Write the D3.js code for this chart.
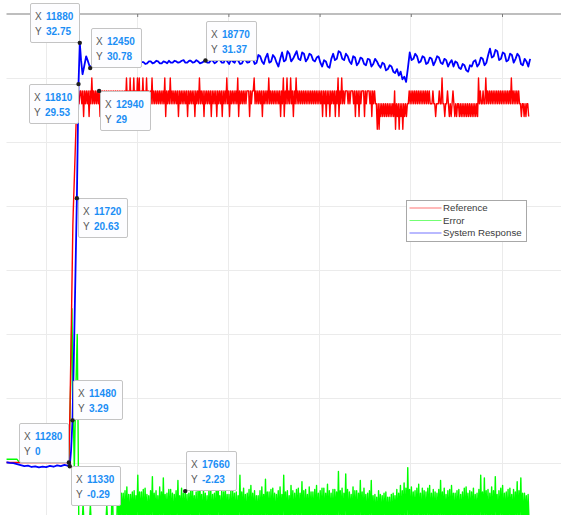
<!DOCTYPE html>
<html>
<head>
<meta charset="utf-8">
<script src="https://cdn.jsdelivr.net/npm/d3@7"></script>
<style>
  html, body { margin: 0; padding: 0; background: #fff; }
  svg { display: block; font-family: "Liberation Sans", Arial, Helvetica, sans-serif; }
</style>
</head>
<body>
<svg id="chart" width="561" height="515"></svg>
<script>
// ---- axis ticks ----
const xTickValues = [10000, 15000, 20000, 25000, 30000, 35000];
const yTickValues = [-5, 0, 5, 10, 15, 20, 25, 30, 35];

// ---- legend ----
const seriesKeys = ["ref", "err", "resp"];
const seriesLabels = ["Reference", "Error", "System Response"];

// ---- Reference: ramp section [time, value], then samples every refStep ----
const refEarly = [[7840, 0], [11280, 0], [11340, 4], [11420, 11], [11500, 18.5], [11520, 19.5],
  [11600, 23], [11700, 27.5], [11760, 29], [11840, 28], [11900, 29]];
const refStart = 11940, refStep = 50;
const refValues = [
  29, 28, 29, 27, 29, 28, 29, 28, 29, 27, 29, 28, 30, 28, 29, 28, 29, 28, 29, 28,
  29, 27, 29, 28, 29, 28, 29, 28, 29, 28, 29, 28, 29, 28, 29, 28, 29, 28, 29, 28,
  29, 28, 29, 27, 29, 28, 29, 28, 29, 28, 30, 28, 29, 27, 30, 28, 29, 28, 30, 28,
  29, 28, 30, 28, 30, 27, 29, 28, 30, 28, 29, 28, 30, 28, 29, 28, 29, 28, 30, 28,
  29, 28, 29, 28, 29, 28, 29, 28, 29, 28, 29, 28, 30, 27, 29, 28, 29, 28, 30, 28,
  29, 28, 29, 28, 29, 28, 29, 27, 29, 28, 29, 28, 29, 28, 29, 28, 29, 27, 29, 28,
  29, 28, 29, 28, 29, 27, 29, 28, 29, 28, 30, 28, 29, 28, 29, 27, 29, 28, 29, 28,
  29, 28, 29, 27, 29, 28, 29, 28, 29, 27, 29, 28, 29, 28, 29, 27, 29, 28, 29, 28,
  30, 28, 29, 27, 29, 28, 29, 28, 29, 28, 29, 28, 30, 27, 29, 28, 29, 28, 29, 28,
  29, 28, 29, 29, 29, 27, 29, 28, 29, 29, 30, 28, 29, 28, 29, 28, 29, 28, 29, 27,
  29, 28, 29, 28, 29, 28, 30, 28, 29, 28, 29, 28, 29, 28, 29, 28, 29, 28, 29, 27,
  29, 28, 30, 27, 29, 28, 30, 28, 29, 28, 30, 28, 29, 27, 29, 28, 30, 28, 29, 28,
  29, 28, 29, 28, 29, 28, 29, 28, 29, 28, 29, 28, 29, 28, 29, 28, 29, 28, 29, 28,
  29, 28, 29, 28, 29, 27, 29, 28, 29, 27, 29, 28, 29, 27, 29, 28, 29, 28, 29, 27,
  29, 28, 30, 27, 29, 28, 30, 28, 29, 28, 29, 29, 29, 28, 29, 28, 29, 29, 29, 28,
  29, 27, 29, 28, 29, 27, 29, 28, 29, 29, 29, 27, 29, 28, 29, 29, 29, 28, 29, 27,
  29, 28, 29, 28, 28, 26, 28, 26, 28, 27, 28, 27, 28, 27, 28, 27, 28, 27, 28, 27,
  28, 27, 28, 27, 29, 26, 28, 27, 28, 26, 28, 27, 28, 26, 28, 27, 28, 27, 28, 28,
  29, 28, 29, 28, 29, 28, 29, 28, 29, 28, 29, 28, 29, 28, 29, 28, 29, 28, 29, 28,
  29, 28, 29, 28, 28, 28, 29, 28, 28, 27, 28, 28, 28, 29, 28, 28, 30, 28, 28, 27,
  28, 28, 29, 28, 27, 28, 27, 28, 29, 28, 27, 28, 27, 28, 28, 27, 28, 27, 28, 27,
  28, 27, 28, 27, 28, 27, 28, 27, 28, 27, 28, 27, 28, 27, 28, 27, 30, 28, 29, 28,
  28, 29, 28, 28, 30, 28, 29, 28, 29, 28, 29, 28, 29, 28, 29, 28, 29, 28, 29, 28,
  29, 28, 29, 28, 29, 28, 29, 28, 29, 28, 29, 28, 30, 28, 29, 28, 29, 28, 29, 28,
  29, 28, 28, 27, 28, 28, 27, 28, 27, 28, 28, 27
];

// ---- System Response: start-up section [time, value], then samples every respStep ----
const respEarly = [[7840, 0.02], [8040, -0.03], [8240, -0.05], [8440, -0.12], [8640, -0.2],
  [8840, -0.28], [9040, -0.25], [9240, -0.35], [9440, -0.3], [9640, -0.38], [9840, -0.32],
  [10040, -0.36], [10240, -0.27], [10440, -0.33], [10640, -0.22], [10840, -0.28], [11040, -0.18],
  [11200, -0.24], [11280, -0.22], [11330, -0.29], [11400, 0.9], [11480, 3.29], [11560, 8.6],
  [11640, 14.6], [11720, 20.63], [11810, 29.53], [11880, 32.75], [11950, 31.4], [12030, 30.3],
  [12120, 30.9], [12230, 31.7], [12330, 31.3], [12450, 30.78], [12510, 30.95]];
const respStart = 12570, respStep = 100;
const respValues = [
  31.05, 31.2, 31.15, 31.05, 31.0, 31.15, 31.1, 31.0, 31.2, 31.1,
  31.05, 31.2, 31.15, 31.05, 31.1, 31.25, 31.2, 31.05, 31.1, 31.2,
  31.25, 31.1, 31.15, 31.3, 31.2, 31.1, 31.1, 31.25, 31.25, 31.1,
  31.15, 31.3, 31.3, 31.15, 31.2, 31.35, 31.3, 31.15, 31.15, 31.3,
  31.25, 31.15, 31.35, 31.2, 31.2, 31.35, 31.3, 31.2, 31.25, 31.35,
  31.4, 31.2, 31.2, 31.35, 31.35, 31.2, 31.25, 31.4, 31.3, 31.15,
  31.2, 31.3, 31.37, 31.2, 31.2, 31.4, 31.35, 31.15, 31.25, 31.45,
  31.4, 31.2, 31.2, 31.5, 31.3, 31.1, 31.45, 31.3, 31.2, 31.5,
  31.35, 31.1, 31.15, 31.45, 31.4, 31.2, 31.25, 31.6, 31.5, 31.1,
  31.2, 31.8, 31.7, 31.3, 31.1, 31.6, 31.9, 31.2, 31.3, 31.8,
  31.6, 31.2, 30.9, 31.5, 32.0, 31.3, 31.4, 32.1, 31.9, 31.3,
  31.5, 31.8, 32.1, 31.5, 31.4, 32.0, 31.9, 31.3, 31.5, 31.9,
  31.8, 31.4, 31.3, 31.6, 31.7, 31.2, 30.9, 31.4, 31.3, 30.9,
  30.8, 31.5, 31.9, 31.4, 31.5, 32.1, 32.0, 31.5, 31.4, 31.9,
  31.7, 31.3, 31.1, 31.7, 31.6, 31.0, 31.2, 31.6, 31.5, 31.1,
  31.0, 31.5, 31.45, 30.9, 31.1, 31.5, 31.3, 31.0, 30.8, 31.2,
  31.1, 30.6, 30.7, 31.0, 30.9, 30.5, 30.4, 30.7, 30.2, 30.5,
  29.9, 30.1, 29.7, 30.8, 32.0, 31.4, 31.5, 31.9, 31.7, 31.2,
  31.3, 31.7, 31.6, 31.1, 31.2, 31.6, 31.5, 31.0, 31.3, 31.7,
  31.6, 31.2, 31.1, 31.5, 31.4, 30.9, 31.2, 31.4, 30.9, 31.3,
  31.2, 30.8, 30.7, 31.1, 31.0, 30.6, 30.5, 31.0, 30.9, 31.3,
  31.4, 30.9, 31.1, 31.6, 31.5, 31.0, 31.2, 31.8, 32.3, 31.6,
  31.7, 32.2, 32.1, 31.4, 31.5, 32.0, 31.9, 31.3, 31.4, 31.9,
  31.8, 31.2, 31.5, 31.9, 31.7, 31.1, 31.0, 31.5, 31.3, 30.9,
  31.5
];

// ---- Error: start-up section [time, value], then samples every errStep ----
const errEarly = [[7840, 0.25], [8440, 0.25], [8560, 0.02], [11280, 0.02], [11380, 6], [11450, 12.0],
  [11520, 4], [11580, -0.5], [11650, 5], [11740, 10], [11790, 2], [11830, -5.5], [11880, -4.2], [11920, -4.9]];
const errStart = 11960, errStep = 50;
const errValues = [
  -4.6, -4.8, -3.2, -4.7, -4.9, -4.5, -4.8, -5.0, -4.6, -4.7,
  -3.3, -4.8, -4.5, -4.9, -4.6, -4.4, -4.8, -4.7, -5.0, -4.6,
  -4.5, -4.9, -4.7, -4.4, -4.8, -4.6, -5.0, -4.7, -3.3, -4.8,
  -4.6, -4.9, -4.5, -4.7, -0.8, -4.8, -4.6, -4.9, -4.5, -4.7,
  -1.2, -4.6,
  -2.1, -4.6, -2.4, -4.4, -2.4, -4.9, -2.2, -4.5, -1.9, -4.7, -2.5, -5.0, -2.5, -4.3, -2.3, -4.8, -2.2, -4.6, -2.6, -4.4,
  -1.0, -4.9, -2.3, -4.5, -2.3, -4.7, -2.1, -5.0, -2.0, -4.3, -2.5, -4.8, -2.6, -4.6, -2.2, -4.4, -1.1, -4.9, -2.4, -4.5,
  -2.2, -4.7, -2.6, -5.0, -1.9, -4.3, -2.3, -4.8, -1.2, -4.6, -2.5, -4.4, -2.4, -4.9, -2.1, -4.5, -2.1, -4.7, -2.4, -5.0,
  -2.5, -4.3, -2.2, -4.8, -1.4, -4.6, -2.6, -4.4, -2.0, -4.9, -2.4, -4.5, -2.23, -4.7, -2.5, -5.0, -2.4, -4.3, -2.1, -4.8,
  -1.9, -4.6, -2.6, -4.4, -2.3, -4.9, -2.2, -4.5, -1.3, -4.7, -2.5, -5.0, -2.1, -4.3, -2.4, -4.8, -2.6, -4.6, -2.2, -4.4,
  -2.0, -4.9, -2.5, -4.5, -2.4, -4.7, -2.1, -5.0, -1.2, -4.3, -2.6, -4.8, -2.2, -4.6, -2.3, -4.4, -1.9, -4.9, -2.5, -4.5,
  -2.5, -4.7, -2.2, -5.0, -2.1, -4.3, -2.4, -4.8, -2.3, -4.6, -2.6, -4.4, -1.0, -4.9, -2.3, -4.5, -2.0, -4.7, -2.5, -5.0,
  -2.4, -4.3, -2.1, -4.8, -1.8, -4.6, -2.4, -4.4, -2.2, -4.9, -2.6, -4.5, -2.6, -4.7, -2.2, -5.0, -1.9, -4.3, -2.5, -4.8,
  -1.3, -4.6, -2.3, -4.4, -2.3, -4.9, -2.1, -4.5, -2.0, -4.7, -2.4, -5.0, -2.5, -4.3, -2.2, -4.8, -1.9, -4.6, -2.5, -4.4,
  -1.0, -4.9, -2.3, -4.5, -2.2, -4.7, -2.6, -5.0, -1.8, -4.3, -2.2, -4.8, -2.4, -4.6, -2.1, -4.4, -2.0, -4.9, -2.4, -4.5,
  -1.5, -4.7, -2.2, -5.0, -2.1, -4.3, -2.5, -4.8, -1.9, -4.6, -2.3, -4.4, -2.3, -4.9, -2.1, -4.5, -1.8, -4.7, -2.4, -5.0,
  -2.2, -4.3, -2.0, -4.8, -2.0, -4.6, -2.4, -4.4, -1.7, -4.9, -2.2, -4.5, -2.4, -4.7, -2.1, -5.0, -2.1, -4.3, -2.3, -4.8,
  -0.7, -4.6, -2.2, -4.4, -2.0, -4.9, -2.4, -4.5, -0.9, -4.7, -2.1, -5.0, -2.3, -4.3, -2.5, -4.8, -1.9, -4.6, -2.2, -4.4,
  -2.2, -4.9, -2.4, -4.5, -1.4, -4.7, -2.3, -5.0, -2.0, -4.3, -2.5, -4.8, -2.4, -4.6, -2.2, -4.4, -1.4, -4.9, -2.6, -4.5,
  -2.5, -4.7, -2.7, -5.0, -2.2, -4.3, -2.5, -4.8, -2.6, -4.6, -2.4, -4.4, -2.3, -4.9, -2.7, -4.5, -2.7, -4.7, -2.5, -5.0,
  -2.4, -4.3, -2.6, -4.8, -2.1, -4.6, -2.4, -4.4, -1.8, -4.9, -2.2, -4.5, -1.6, -4.7, -2.0, -5.0, -0.4, -4.3, -2.1, -4.8,
  -1.9, -4.6, -2.3, -4.4, -2.2, -4.9, -2.0, -4.5, -1.7, -4.7, -2.4, -5.0, -2.0, -4.3, -2.2, -4.8, -2.3, -4.6, -2.0, -4.4,
  -1.8, -4.9, -2.4, -4.5, -2.1, -4.7, -2.3, -5.0, -2.4, -4.3, -2.1, -4.8, -1.4, -4.6, -2.3, -4.4, -2.0, -4.9, -2.5, -4.5,
  -2.2, -4.7, -2.1, -5.0, -1.8, -4.3, -2.4, -4.8, -2.4, -4.6, -2.2, -4.4, -2.1, -4.9, -2.5, -4.5, -2.3, -4.7, -2.0, -5.0,
  -1.9, -4.3, -2.4, -4.8, -2.2, -4.6, -2.3, -4.4, -2.0, -4.9, -2.5, -4.5, -2.4, -4.7, -2.1, -5.0, -1.0, -4.3, -2.3, -4.8,
  -1.2, -4.6, -2.2, -4.4, -2.1, -4.9, -2.4, -4.5, -1.9, -4.7, -2.2, -5.0, -1.1, -4.3, -2.5, -4.8, -2.2, -4.6, -2.0, -4.4,
  -1.8, -4.9, -2.4, -4.5, -2.3, -4.7, -2.1, -5.0, -2.0, -4.3, -2.5, -4.8, -2.1, -4.6, -2.3, -4.4, -1.5, -4.9, -2.2, -4.5,
  -1.2, -4.7, -2.4, -5.0, -2.4, -4.3, -2.6, -4.8, -2.5, -4.6
];

// ---- data tips: which series and at which time ----
const tipSeries = ["resp", "resp", "resp", "resp", "ref", "resp", "resp", "ref", "resp", "err"];
const tipX = [11880, 12450, 18770, 11810, 12940, 11720, 11480, 11280, 11330, 17660];
// box side relative to the marked point (u/d = above/below, l/r = left/right)
const tipPlace = ["ul", "ur", "ur", "dl", "dr", "dr", "ur", "ul", "dr", "ur"];

// ---- assemble series ----
function assemble(early, start, step, values) {
  return early.concat(values.map((v, i) => [start + i * step, v]));
}
const series = {
  ref: assemble(refEarly, refStart, refStep, refValues),
  resp: assemble(respEarly, respStart, respStep, respValues),
  err: assemble(errEarly, errStart, errStep, errValues)
};
const colors = { ref: "#ff0000", err: "#00ff00", resp: "#0000ff" };
const widths = { ref: 1.4, err: 1.4, resp: 1.8 };

// ---- layout ----
const W = 561, H = 515;
const plotLeft = 6.5, plotTop = 14;
const svg = d3.select("#chart");
svg.append("rect").attr("width", W).attr("height", H).attr("fill", "#fff");

const x = d3.scaleLinear().domain([10000, 35000]).range([45.5, 501.5]);
const y = d3.scaleLinear().domain([0, 35]).range([462.5, 14]);

svg.append("defs").append("clipPath").attr("id", "plotClip")
  .append("rect").attr("x", plotLeft).attr("y", plotTop).attr("width", W - plotLeft).attr("height", H - plotTop);

// grid
const grid = svg.append("g").attr("stroke", "#ebebeb").attr("stroke-width", 1);
grid.selectAll("line.v").data(xTickValues).join("line")
  .attr("class", "v")
  .attr("x1", d => Math.round(x(d)) + 0.5).attr("x2", d => Math.round(x(d)) + 0.5)
  .attr("y1", plotTop).attr("y2", H);
grid.selectAll("line.h").data(yTickValues.filter(v => v < 35)).join("line")
  .attr("class", "h")
  .attr("x1", plotLeft).attr("x2", W)
  .attr("y1", d => Math.round(y(d)) + 0.5).attr("y2", d => Math.round(y(d)) + 0.5);

// series lines
const line = d3.line().x(d => x(d[0])).y(d => y(d[1]));
const plot = svg.append("g").attr("clip-path", "url(#plotClip)");
["err", "ref", "resp"].forEach(k => {
  plot.append("path")
    .datum(series[k])
    .attr("fill", "none")
    .attr("stroke", colors[k])
    .attr("stroke-width", widths[k])
    .attr("stroke-linejoin", "round")
    .attr("d", line);
});

// top box edge with inward ticks
svg.append("line")
  .attr("x1", plotLeft).attr("x2", W).attr("y1", plotTop).attr("y2", plotTop)
  .attr("stroke", "#a9a9a9").attr("stroke-width", 1.4);
const topAxis = svg.append("g").attr("transform", `translate(0.5,${plotTop})`)
  .call(d3.axisTop(x).tickValues(xTickValues).tickSize(-3).tickFormat(""));
topAxis.select(".domain").remove();
topAxis.selectAll(".tick line").attr("stroke", "#7a7a7a").attr("stroke-width", 1);

// legend
const lg = svg.append("g").attr("transform", "translate(406.5,200.5)");
lg.append("rect").attr("width", 120).attr("height", 41)
  .attr("fill", "#fff").attr("stroke", "#a8a8a8").attr("stroke-width", 1);
seriesKeys.forEach((k, i) => {
  const cy = 7.5 + i * 12.5;
  lg.append("line").attr("x1", 3).attr("x2", 35).attr("y1", cy).attr("y2", cy)
    .attr("stroke", colors[k]).attr("stroke-width", 1).attr("stroke-opacity", 0.55);
  lg.append("text").attr("x", 36.5).attr("y", cy).attr("dy", "0.35em")
    .attr("font-size", 9.7).attr("fill", "#3a3a3a").text(seriesLabels[i]);
});

// data tips
const fmt = v => String(+v.toFixed(2));
const tipsG = svg.append("g");
tipX.forEach((tx, i) => {
  const pt = series[tipSeries[i]].find(d => d[0] === tx);
  const px = x(pt[0]), py = y(pt[1]);
  const g = tipsG.append("g");
  const rect = g.append("rect");
  const lx = g.append("text").attr("font-size", 10).attr("fill", "#5a5a5a").text("X");
  const v1 = g.append("text").attr("font-size", 10).attr("font-weight", "bold").attr("fill", "#1b8ef5").text(fmt(pt[0]));
  const ly = g.append("text").attr("font-size", 10).attr("fill", "#5a5a5a").text("Y");
  const v2 = g.append("text").attr("font-size", 10).attr("font-weight", "bold").attr("fill", "#1b8ef5").text(fmt(pt[1]));
  const wv = Math.max(v1.node().getComputedTextLength(), v2.node().getComputedTextLength());
  const bw = Math.round(16 + wv + 6), bh = 39;
  const place = tipPlace[i];
  const left = place[1] === "l" ? Math.round(px) - 1 - bw : Math.round(px) + 1;
  const top = place[0] === "u" ? Math.round(py) - 1 - bh : Math.round(py);
  rect.attr("x", left + 0.5).attr("y", top + 0.5).attr("width", bw).attr("height", bh)
    .attr("rx", 1.5).attr("fill", "#fdfdff").attr("stroke", "#c4c4c4").attr("stroke-width", 1);
  lx.attr("x", left + 5).attr("y", top + 17);
  v1.attr("x", left + 16).attr("y", top + 17);
  ly.attr("x", left + 5).attr("y", top + 31.5);
  v2.attr("x", left + 16).attr("y", top + 31.5);
  g.append("circle").attr("cx", px).attr("cy", py).attr("r", 2.2).attr("fill", "#1e1e1e");
});
</script>
</body>
</html>
